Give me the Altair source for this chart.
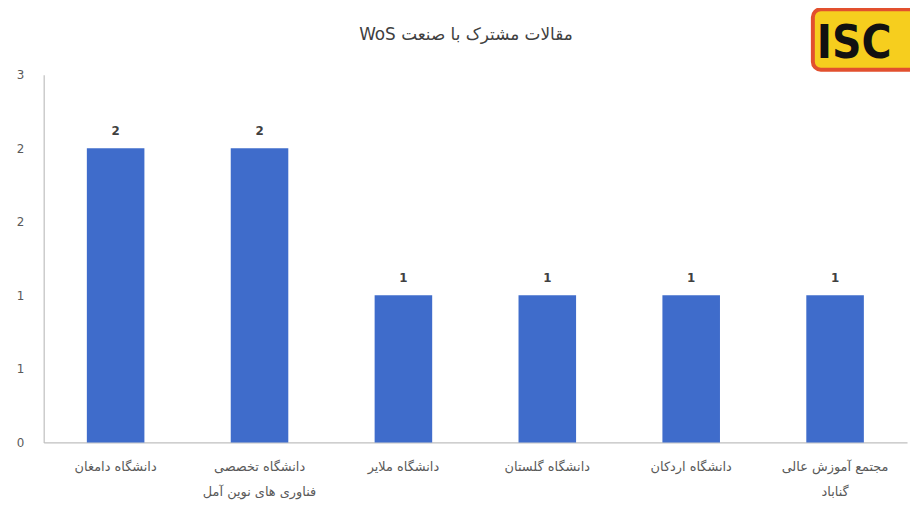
import altair as alt
import pandas as pd

categories = [
    "دانشگاه دامغان",
    "دانشگاه تخصصی\nفناوری های نوین آمل",
    "دانشگاه ملایر",
    "دانشگاه گلستان",
    "دانشگاه اردکان",
    "مجتمع آموزش عالی\nگناباد",
]
values = [2, 2, 1, 1, 1, 1]
y_ticks = [0, 0.5, 1, 1.5, 2, 2.5]
title_text = ["\u202bمقالات مشترک با صنعت WoS\u202c"]
logo_text = ["ISC"]

df = pd.DataFrame({"cat": categories, "val": values})

FONT = "DejaVu Sans"
BLUE = "#3F6CCB"

x_enc = alt.X(
    "cat:N",
    sort=categories,
    title=None,
    scale=alt.Scale(paddingInner=0.6, paddingOuter=0.3),
    axis=alt.Axis(
        labelExpr="split(datum.label, '\\n')",
        labelAngle=0,
        labelFont=FONT,
        labelFontSize=13,
        labelColor="#595959",
        labelPadding=18,
        labelLineHeight=26,
        ticks=False,
        domainColor="#BFBFBF",
        domainWidth=1.2,
        labelBaseline="top",
    ),
)
y_enc = alt.Y(
    "val:Q",
    title=None,
    scale=alt.Scale(domain=[0, 2.5], nice=False),
    axis=alt.Axis(
        values=y_ticks,
        labelExpr="'' + round(datum.value)",
        labelFont=FONT,
        labelFontSize=12,
        labelColor="#595959",
        labelPadding=20,
        ticks=False,
        grid=False,
        domainColor="#BFBFBF",
        domainWidth=1.2,
    ),
)

bars = alt.Chart(df).mark_bar(color=BLUE).encode(x=x_enc, y=y_enc)
labels = alt.Chart(df).mark_text(
    dy=-17, font=FONT, fontSize=12, fontWeight="bold", color="#404040"
).encode(x=alt.X("cat:N", sort=categories), y="val:Q", text="val:Q")

title_df = pd.DataFrame({"t": title_text})
title_mark = alt.Chart(title_df).mark_text(
    font=FONT, fontSize=17, color="#404040", baseline="middle", align="center"
).encode(x=alt.value(426), y=alt.value(-40), text="t:N")

logo_df = pd.DataFrame({"t": logo_text})
logo_box = alt.Chart(logo_df).mark_rect(
    fill="#F6CE1E", stroke="#E2502E", strokeWidth=4, cornerRadius=8
).encode(x=alt.value(776), x2=alt.value(895), y=alt.value(-66), y2=alt.value(-5))
logo_txt = alt.Chart(logo_df).mark_text(
    font="DejaVu Sans Condensed, DejaVu Sans", fontSize=46, fontWeight="bold",
    color="#111111", align="left", baseline="alphabetic"
).encode(x=alt.value(780), y=alt.value(-17), text="t:N")

chart = alt.layer(bars, labels, title_mark, logo_box, logo_txt).properties(
    width=871,
    height=371,
    autosize=alt.AutoSizeParams(type="none"),
    padding={"left": 36, "top": 65, "right": 3, "bottom": 70},
    background="white",
).configure_view(stroke=None)

chart.save("out.html", embed_options={"renderer": "svg", "actions": False})
